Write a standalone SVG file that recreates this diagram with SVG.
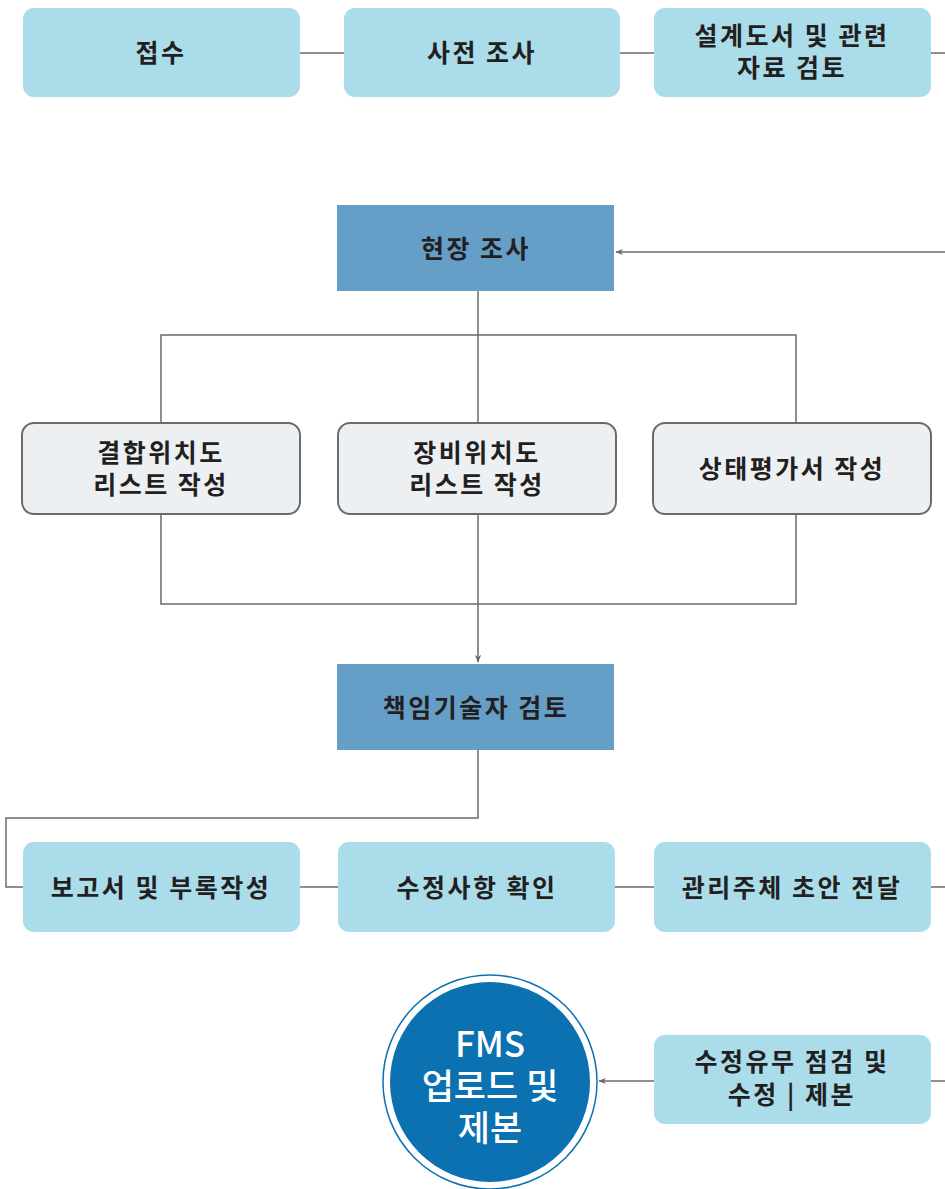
<svg xmlns="http://www.w3.org/2000/svg" width="945" height="1189" viewBox="0 0 945 1189">
<defs>
<style>
.lb{fill:#abdcea}
.dk{fill:#659fc7}
.gr{fill:#edf0f3;stroke:#6b6b6b;stroke-width:2}
.t{font-family:"Noto Sans CJK KR","Noto Sans",sans-serif;font-weight:bold;font-size:25px;fill:#231f20;text-anchor:middle;letter-spacing:2.5px}
.w{font-family:"Noto Sans CJK KR","Noto Sans",sans-serif;font-weight:500;font-size:35px;fill:#ffffff;text-anchor:middle}
.c{fill:none;stroke:#6b6b6b;stroke-width:1.5}
</style>
<marker id="ah" viewBox="0 0 10 10" refX="9" refY="5" markerWidth="8" markerHeight="8" orient="auto" markerUnits="userSpaceOnUse">
<path d="M0,1 L10,5 L0,9 L3,5 Z" fill="#6b6b6b"/>
</marker>
</defs>
<rect width="945" height="1189" fill="#ffffff"/>
<g id="connectors">
<path class="c" d="M300,53 H344 M620,53 H654 M931,53 H945"/>
<path class="c" d="M945,252 H616" marker-end="url(#ah)"/>
<path class="c" d="M478,291 V335 M161,423 V335 H796 V423 M478,335 V423"/>
<path class="c" d="M161,514 V604 H796 V514 M478,514 V662" marker-end="url(#ah)"/>
<path class="c" d="M478,750 V818 H6 V887 H23"/>
<path class="c" d="M300,887 H338 M615,887 H654 M931,887 H945"/>
<path class="c" d="M945,1081 H931"/>
<path class="c" d="M654,1081 H599" marker-end="url(#ah)"/>
</g>
<g id="n1"><rect class="lb" x="23" y="8" width="277" height="89" rx="11"/><text class="t" x="161" y="62">접수</text></g>
<g id="n2"><rect class="lb" x="344" y="8" width="276" height="89" rx="11"/><text class="t" x="482" y="62">사전 조사</text></g>
<g id="n3"><rect class="lb" x="654" y="8" width="277" height="89" rx="11"/><text class="t" x="792" y="45">설계도서 및 관련</text><text class="t" x="792" y="77">자료 검토</text></g>
<g id="n4"><rect class="dk" x="337" y="205" width="277" height="86"/><text class="t" x="476" y="258">현장 조사</text></g>
<g id="n5"><rect class="gr" x="22" y="423" width="278" height="91" rx="12"/><text class="t" x="161" y="462">결합위치도</text><text class="t" x="161" y="494">리스트 작성</text></g>
<g id="n6"><rect class="gr" x="338" y="423" width="278" height="91" rx="12"/><text class="t" x="477" y="462">장비위치도</text><text class="t" x="477" y="494">리스트 작성</text></g>
<g id="n7"><rect class="gr" x="653" y="423" width="278" height="91" rx="12"/><text class="t" x="792" y="478">상태평가서 작성</text></g>
<g id="n8"><rect class="dk" x="337" y="664" width="277" height="86"/><text class="t" x="476" y="717">책임기술자 검토</text></g>
<g id="n9"><rect class="lb" x="23" y="842" width="277" height="90" rx="11"/><text class="t" x="161" y="897">보고서 및 부록작성</text></g>
<g id="n10"><rect class="lb" x="338" y="842" width="277" height="90" rx="11"/><text class="t" x="477" y="897">수정사항 확인</text></g>
<g id="n11"><rect class="lb" x="654" y="842" width="277" height="90" rx="11"/><text class="t" x="792" y="897">관리주체 초안 전달</text></g>
<g id="n12"><rect class="lb" x="654" y="1035" width="277" height="89" rx="11"/><text class="t" x="792" y="1071">수정유무 점검 및</text><text class="t" x="792" y="1104">수정 | 제본</text></g>
<g id="n13"><circle cx="490" cy="1082" r="107" fill="#ffffff" stroke="#0b71b0" stroke-width="1.5"/><circle cx="490" cy="1082" r="100" fill="#0b71b0"/><text class="w" x="490" y="1057">FMS</text><text class="w" x="490" y="1099">업로드 및</text><text class="w" x="490" y="1141">제본</text></g>
</svg>
